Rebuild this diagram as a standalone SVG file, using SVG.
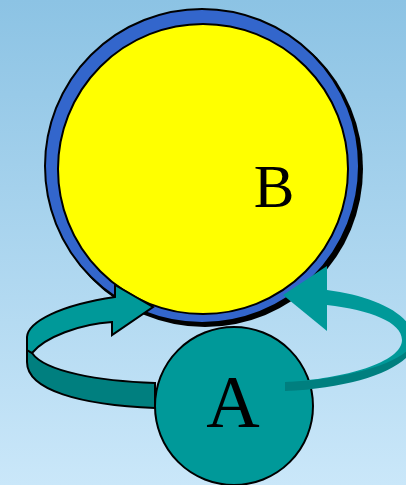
<svg xmlns="http://www.w3.org/2000/svg" width="406" height="485" viewBox="0 0 406 485">
  <defs>
    <linearGradient id="bg" x1="0" y1="0" x2="0" y2="1">
      <stop offset="0" stop-color="#8cc3e4"/>
      <stop offset="1" stop-color="#cae7f9"/>
    </linearGradient>
  </defs>
  <style>
    .ol { stroke: #000; stroke-width: 2; stroke-linejoin: miter; }
    .teal { fill: #009999; }
    .dark { fill: #007f7f; }
    .lbl { font-family: "Liberation Serif", "Times New Roman", serif; fill: #000; text-anchor: middle; }
  </style>
  <rect x="0" y="0" width="406" height="485" fill="url(#bg)"/>

  <g id="node-B">
    <circle cx="205" cy="169" r="158" fill="#000"/>
    <circle cx="202" cy="166" r="157" fill="#3366cc" class="ol"/>
    <circle cx="203" cy="169" r="145" fill="#ffff00" class="ol"/>
    <text class="lbl" x="274" y="207" font-size="61">B</text>
  </g>

  <g id="node-A">
    <circle cx="234" cy="406" r="79" class="teal ol"/>
    <text class="lbl" x="233" y="427" font-size="74">A</text>
  </g>

  <g id="connectors">
    <g id="arrow-left">
      <path class="dark ol" d="M155,383 C100,381 45,372 32,353 L27,350 L27,362 C27,390 80,405 155,408 Z"/>
      <path class="teal ol" d="M27,350 L27,337 C28,322 60,305 115,297 L115,285 L153,307 L112,335 L112,322 C80,324 45,337 32,353 Z"/>
    </g>
    <g id="arrow-right">
      <path class="teal" d="M327,290 C375,296 414,315 414,340 C414,362 355,384 285,391 L285,382 C345,379 402,362 402,340 C402,322 370,310 327,305 Z"/>
      <path class="dark" d="M285,382 C340,380 392,366 409,349 L412,351 C398,372 350,388 285,391 Z"/>
      <polygon class="teal" points="283,295 327,266 327,331"/>
    </g>
  </g>
</svg>
